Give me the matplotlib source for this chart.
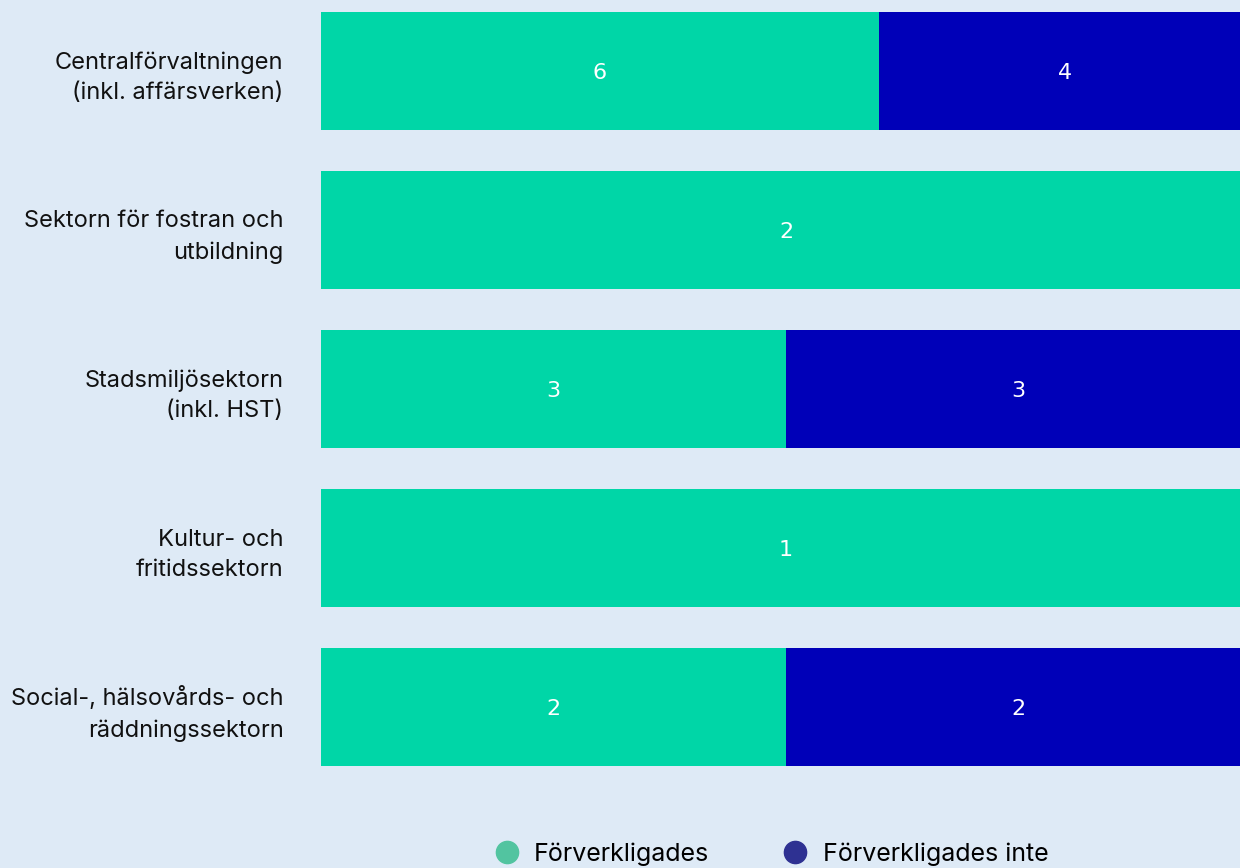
import numpy as np
import matplotlib
matplotlib.use("Agg")
import matplotlib.pyplot as plt
from matplotlib.lines import Line2D

plt.rcParams["font.family"] = ["Inter", "DejaVu Sans"]

categories = [
    "Centralförvaltningen\n(inkl. affärsverken)",
    "Sektorn för fostran och\nutbildning",
    "Stadsmiljösektorn\n(inkl. HST)",
    "Kultur- och\nfritidssektorn",
    "Social-, hälsovårds- och\nräddningssektorn",
]
realised = [6, 2, 3, 1, 2]
not_realised = [4, 0, 3, 0, 2]
series_names = ["Förverkligades", "Förverkligades inte"]

BG = "#deeaf6"
GREEN = "#00d6a7"
BLUE = "#0000b8"
LEG_GREEN = "#52c4a0"
LEG_BLUE = "#2e3192"

W, H = 1240, 868
fig = plt.figure(figsize=(W / 100, H / 100), dpi=100, facecolor=BG)
# axes runs past the right edge of the figure, as in the original
ax = fig.add_axes([321 / W, 0, 930 / W, 1])
ax.set_facecolor(BG)

real = np.array(realised, dtype=float)
notr = np.array(not_realised, dtype=float)
tot = real + notr
p_real = real / tot * 100
p_not = notr / tot * 100
y = np.arange(len(categories))

ax.barh(y, p_real, height=118 / 159, color=GREEN, linewidth=0)
ax.barh(y, p_not, left=p_real, height=118 / 159, color=BLUE, linewidth=0)

for i in range(len(categories)):
    if real[i] > 0:
        ax.text(p_real[i] / 2, y[i] + 0.015, f"{int(real[i])}", color="white",
                ha="center", va="center", fontsize=16, family="DejaVu Sans")
    if notr[i] > 0:
        ax.text(p_real[i] + p_not[i] / 2, y[i] + 0.015, f"{int(notr[i])}", color="white",
                ha="center", va="center", fontsize=16, family="DejaVu Sans")

ax.set_xlim(0, 100)
ax.set_ylim((H - 71) / 159, -71 / 159)
for s in ax.spines.values():
    s.set_visible(False)
ax.set_xticks([])
ax.set_yticks(y)
ax.set_yticklabels(categories, fontsize=17, color="#111111", linespacing=1.5)
ax.tick_params(axis="y", length=0, pad=27)

handles = [
    Line2D([], [], marker="o", linestyle="none", markersize=16,
           markerfacecolor=LEG_GREEN, markeredgecolor=LEG_GREEN, label=series_names[0]),
    Line2D([], [], marker="o", linestyle="none", markersize=16,
           markerfacecolor=LEG_BLUE, markeredgecolor=LEG_BLUE, label=series_names[1]),
]
fig.legend(handles=handles, loc="center", bbox_to_anchor=(770 / W, 1 - 854 / H),
           ncol=2, frameon=False, fontsize=18, handletextpad=0.5,
           columnspacing=2.84, handlelength=1.2)

fig.savefig("out.png", dpi=100, facecolor=BG)
